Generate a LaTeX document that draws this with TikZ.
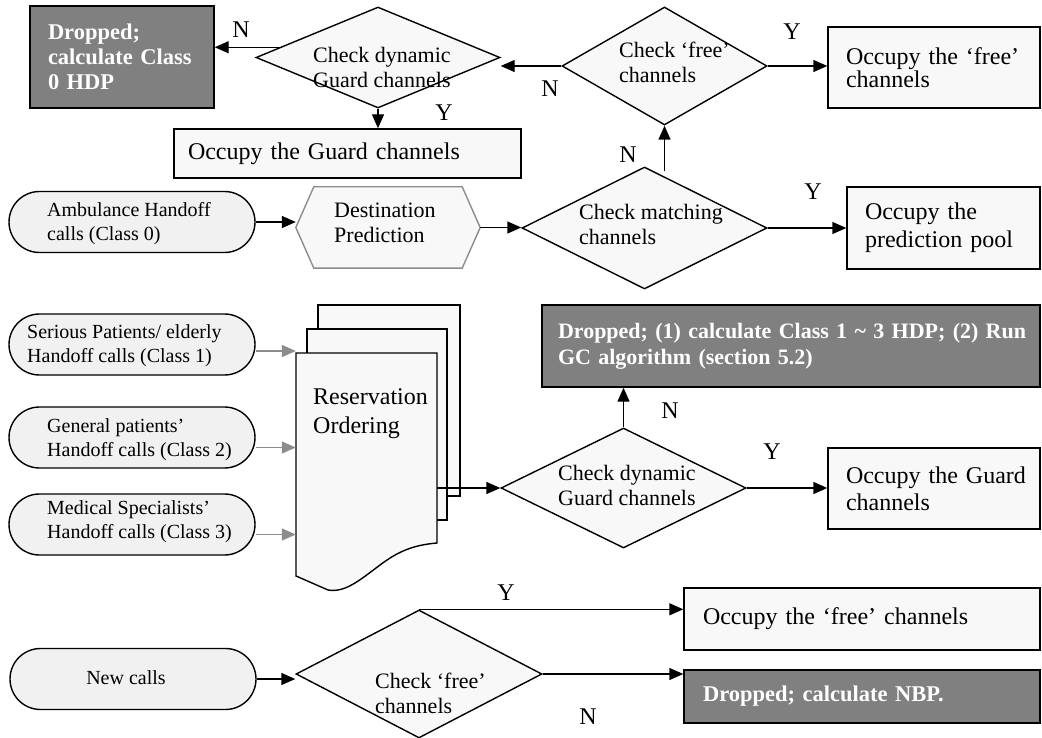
\documentclass[tikz,border=0pt]{standalone}
\usepackage{fontspec}
\setmainfont{Liberation Serif}
\usetikzlibrary{shapes.geometric,shapes.misc,arrows.meta,calc}
\definecolor{lightfill}{HTML}{F8F8F8}
\definecolor{stadfill}{HTML}{F1F1F1}
\definecolor{darkbox}{HTML}{808080}
\definecolor{grayline}{HTML}{8C8C8C}
\begin{document}
\begin{tikzpicture}[x=1pt,y=-1pt,
  every node/.style={inner sep=0pt},
  ln/.style={line width=1.4pt},
  arr/.style={ln,-{Triangle[length=14pt,width=12pt]}},
  garr/.style={ln,grayline,-{Triangle[length=14pt,width=12pt]}},
  box/.style={draw,ln,fill=lightfill,rectangle,align=left,inner ysep=0pt,font=\fontsize{24}{28}\selectfont},
  dbox/.style={draw,ln,fill=darkbox,rectangle,align=left,inner ysep=0pt,text=white,font=\fontsize{22.5}{25}\selectfont\bfseries},
  dia/.style={diamond,draw,ln,fill=lightfill,inner sep=0pt},
  stad/.style={rounded rectangle,draw,ln,fill=stadfill,minimum width=246pt,minimum height=61pt},
  stxt/.style={anchor=west,align=left,font=\fontsize{20}{24}\selectfont},
  dtxt/.style={anchor=west,align=left,font=\fontsize{22}{25}\selectfont},
  lab/.style={font=\fontsize{24}{24}\selectfont},
  sheet/.style={draw,ln,fill=lightfill}
]
\useasboundingbox (0,0) rectangle (1042,738);

% ---------- top part ----------
\node[dbox,minimum height=102pt,text width=148pt,inner xsep=18pt] (drop1) at (122,57) {\mbox{Dropped;}\\\mbox{calculate Class}\\\mbox{0 HDP}};
\node[dia,minimum width=244pt,minimum height=101pt] (dyn1) at (378,57.5) {};
\node[dtxt] (dyn1t) at (313,67) {Check dynamic\\Guard channels};
\node[box,minimum height=49pt,text width=319pt,inner xsep=14pt] (occG1) at (347.5,153.5) {\mbox{Occupy the Guard channels}};
\node[dia,minimum width=205pt,minimum height=118pt] (free1) at (664.5,66) {};
\node[dtxt] (free1t) at (619,62) {Check ‘free’\\channels};
\node[box,minimum height=81pt,text width=176pt,inner xsep=18pt,font=\fontsize{24}{21}\selectfont] (occF1) at (934,67.5) {\mbox{Occupy the ‘free’}\\channels};

% ---------- ambulance row ----------
\node[stad] (amb) at (132,222) {};
\node[stxt] (ambt) at (47,224) {Ambulance Handoff\\calls (Class 0)};
\node[minimum width=184pt,minimum height=81pt] (hex) at (388,227.5) {};
\draw[ln,grayline,fill=lightfill] (hex.west) -- ($(hex.north west)+(18,0)$) -- ($(hex.north east)+(-18,0)$) -- (hex.east) -- ($(hex.south east)+(-18,0)$) -- ($(hex.south west)+(18,0)$) -- cycle;
\node[dtxt] (hext) at (334,223) {Destination\\Prediction};
\node[dia,minimum width=245pt,minimum height=122pt] (match) at (644.5,228) {};
\node[dtxt] (matcht) at (579,224) {Check matching\\channels};
\node[box,minimum height=82pt,text width=157pt,inner xsep=18pt] (pred) at (943.5,228) {Occupy the\\\mbox{prediction pool}};

% ---------- classes 1-3 ----------
\node[stad] (s1) at (132,344.5) {};
\node[stxt] (s1t) at (27,346) {Serious Patients/ elderly\\Handoff calls (Class 1)};
\node[stad] (s2) at (132,437.5) {};
\node[stxt] (s2t) at (47,440) {General patients’\\Handoff calls (Class 2)};
\node[stad] (s3) at (132,524.5) {};
\node[stxt] (s3t) at (47,521.5) {Medical Specialists’\\Handoff calls (Class 3)};

\draw[sheet] (318,305) rectangle (460,496);
\draw[sheet] (307,329) rectangle (447,520);
\draw[sheet] (296,353) -- (437,353) -- (437,543) .. controls (415,545) and (400,550) .. (380,565) .. controls (360,580) and (345,593) .. (328,590) -- (296,576) -- cycle;
\node[minimum width=141pt,minimum height=223pt] (doc) at (366.5,464.5) {};
\node[anchor=west,align=left,font=\fontsize{24}{29}\selectfont] (doct) at (313,414) {Reservation\\Ordering};

\node[dbox,minimum height=82pt,text width=466pt,inner xsep=16pt,font=\fontsize{22}{26}\selectfont\bfseries] (drop2) at (791,346) {\mbox{Dropped; (1) calculate Class 1 \textasciitilde{} 3 HDP; (2) Run}\\\mbox{GC algorithm (section 5.2)}};
\node[dia,minimum width=245pt,minimum height=120pt] (dyn2) at (623.5,488) {};
\node[dtxt] (dyn2t) at (558,485) {Check dynamic\\Guard channels};
\node[box,minimum height=81pt,text width=176pt,inner xsep=18pt,font=\fontsize{24}{27}\selectfont] (occG2) at (934,488.5) {\mbox{Occupy the Guard}\\channels};

% ---------- new calls ----------
\node[stad] (new) at (133,679) {};
\node[font=\fontsize{20}{24}\selectfont] (newt) at (126,678) {New calls};
\node[dia,minimum width=246pt,minimum height=128pt] (free3) at (419,674) {};
\node[dtxt] (free3t) at (375,693.5) {Check ‘free’\\channels};
\node[box,minimum height=62pt,text width=318pt,inner xsep=19pt] (occF3) at (862,619) {\mbox{Occupy the ‘free’ channels}};
\node[dbox,minimum height=53pt,text width=318pt,inner xsep=19pt] (nbp) at (862,696.5) {\mbox{Dropped; calculate NBP.}};

% ---------- connectors ----------
\coordinate (c1) at ($(dyn1.west)!0.2!(dyn1.north)$);
\draw[arr] (c1) -- (c1 -| drop1.east);
\draw[arr] (dyn1.south) -- (dyn1.south |- occG1.north);
\draw[arr] (free1.west) -- (free1.west -| dyn1.east);
\draw[arr] (free1.east) -- (free1.east -| occF1.west);
\draw[arr] ($(free1.south |- match.north)+(0,5)$) -- (free1.south);
\draw[arr] (amb.east) -- (amb.east -| hex.west);
\draw[arr] (hex.east) -- (hex.east -| match.west);
\draw[arr] (match.east) -- (match.east -| pred.west);

\coordinate (g1) at ($(s1.east)+(0,6.5)$);
\coordinate (g2) at ($(s2.east)+(0,10)$);
\coordinate (g3) at ($(s3.east)+(0,10)$);
\draw[garr] (g1) -- (g1 -| doc.west);
\draw[garr] (g2) -- (g2 -| doc.west);
\draw[garr] (g3) -- (g3 -| doc.west);

\draw[arr] (dyn2.west -| doc.east) -- (dyn2.west);
\draw[arr] (dyn2.north) -- (dyn2.north |- drop2.south);
\draw[arr] (dyn2.east) -- (dyn2.east -| occG2.west);

\draw[arr] (new.east) -- (new.east -| free3.west);
\draw[arr] (free3.north) -- (free3.north -| occF3.west);
\draw[arr] (free3.east) -- (free3.east -| nbp.west);

% ---------- labels ----------
\node[lab] (lN1) at (241,30) {N};
\node[lab] (lY1) at (444,113) {Y};
\node[lab] (lN2) at (550,89) {N};
\node[lab] (lY2) at (792,32) {Y};
\node[lab] (lN3) at (628,155) {N};
\node[lab] (lY3) at (813,192) {Y};
\node[lab] (lN4) at (670,411) {N};
\node[lab] (lY4) at (772,452) {Y};
\node[lab] (lY5) at (506,593) {Y};
\node[lab] (lN5) at (588,717) {N};
\end{tikzpicture}
\end{document}
